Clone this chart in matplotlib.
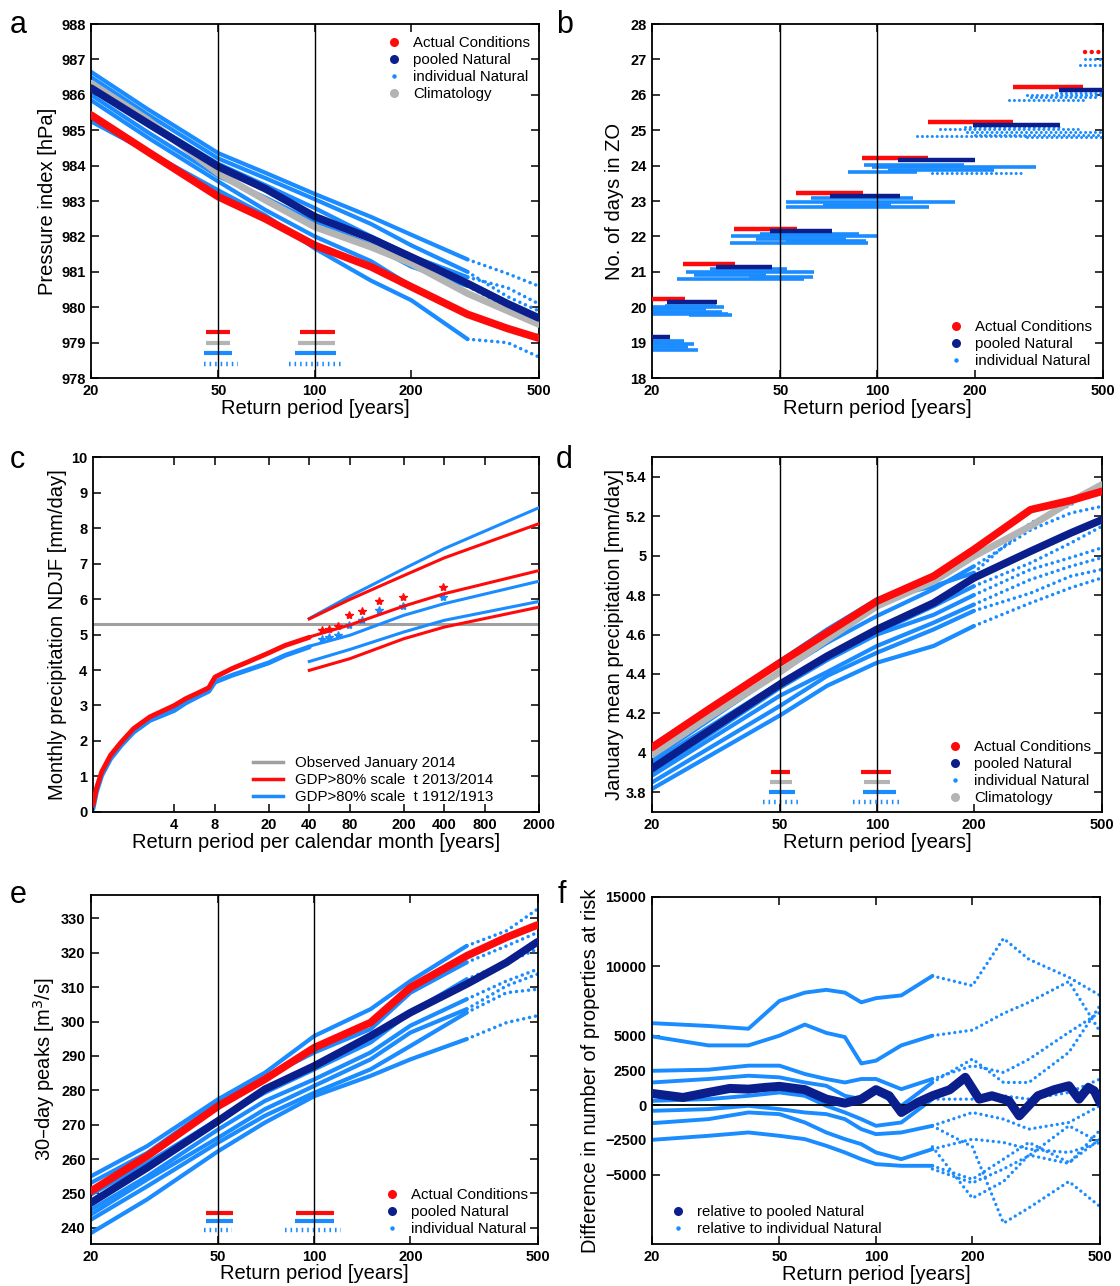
import numpy as np
import matplotlib
matplotlib.use('Agg')
import matplotlib.pyplot as plt
from matplotlib.lines import Line2D
from matplotlib.ticker import NullLocator

plt.rcParams['font.family'] = ['Liberation Sans', 'DejaVu Sans']

RED = '#ff0a0a'
NAVY = '#0a1e8c'
LBLUE = '#1a8cff'
GRAY = '#b4b4b4'

# ---------------- data ----------------
rp = [20, 30, 50, 70, 100, 150, 200, 300, 400, 500]

# panel a: pressure index [hPa]
a_actual = [985.43, 984.4, 983.12, 982.5, 981.75, 981.14, 980.58, 979.8, 979.4, 979.13]
a_pooled = [986.19, 985.2, 983.97, 983.35, 982.56, 981.94, 981.42, 980.67, 980.1, 979.7]
a_clim = [986.33, 985.3, 983.78, 983.03, 982.27, 981.7, 981.24, 980.39, 979.9, 979.52]
a_indiv = [
    [986.65, 985.6, 984.35, 983.8, 983.2, 982.55, 982.05, 981.35, 980.95, 980.6],
    [986.5, 985.45, 984.2, 983.65, 983.05, 982.35, 981.75, 981.0, 980.3, 979.9],
    [986.3, 985.25, 984.05, 983.45, 982.8, 982.0, 981.45, 980.85, 980.55, 980.1],
    [986.0, 984.95, 983.7, 983.1, 982.4, 981.75, 981.15, 980.6, 980.0, 979.7],
    [985.85, 984.8, 983.55, 982.75, 982.0, 981.3, 980.6, 979.8, 979.4, 979.2],
    [985.25, 984.4, 983.3, 982.6, 981.66, 980.75, 980.2, 979.1, 979.0, 978.6],
]
a_ci_y = [979.3, 979.0, 978.7, 978.4]
a_ci50_lo = [45.8, 45.8, 45.0, 45.0]
a_ci50_hi = [54.5, 54.5, 55.3, 57.4]
a_ci100_lo = [89.9, 88.8, 86.6, 82.9]
a_ci100_hi = [115.4, 115.7, 116.8, 123.0]

# panel b: number of days in ZO (step levels)
b_actual_y = [20.22, 21.22, 22.22, 23.22, 24.22, 25.22, 26.22, 27.22]
b_actual_lo = [20, 24.9, 35.9, 56, 89.5, 143, 264, 440]
b_actual_hi = [25.4, 36.3, 56.4, 90.5, 143.7, 264, 434, 500]
b_pooled_y = [19.15, 20.15, 21.15, 22.15, 23.15, 24.15, 25.15, 26.15]
b_pooled_lo = [20, 22.2, 31.5, 46.6, 71.5, 116, 197.5, 366]
b_pooled_hi = [22.7, 31.9, 47.2, 72.2, 117.6, 200, 367, 500]
b_indiv_y = [19.05, 18.95, 18.88, 18.8,
             20.05, 20.0, 19.95, 19.88, 19.82, 19.78,
             21.09, 21.0, 20.92, 20.85, 20.8,
             22.08, 22.0, 21.92, 21.87, 21.82,
             23.08, 22.98, 22.9, 22.82,
             24.02, 23.95, 23.88, 23.83, 23.8,
             25.1, 25.03, 24.95, 24.88, 24.84, 24.8,
             26.05, 26.0, 25.93, 25.85,
             27.02, 26.85]
b_indiv_lo = [20, 20, 20, 20,
              22, 20, 20, 20, 20, 26,
              30.3, 25.5, 27, 40, 24,
              43.2, 35.1, 42, 52, 35,
              62.4, 52, 68, 52,
              91, 96, 108, 81, 148,
              187, 156, 190, 200, 133, 291,
              358, 291, 300, 255,
              440, 425]
b_indiv_hi = [25.2, 27.0, 25.8, 27.8,
              31.5, 33.5, 29.5, 33.0, 34.5, 35.5,
              52.6, 63.6, 45, 63, 59,
              87.8, 99.4, 80, 92, 93.4,
              129, 174, 110, 144,
              186, 310, 230, 133, 283,
              367, 425, 500, 500, 291, 500,
              500, 500, 480, 444,
              500, 494]

# panel c: monthly precipitation NDJF [mm/day]
c_rp = [1.0, 1.06, 1.16, 1.35, 1.62, 2.0, 2.64, 4.0, 4.85, 6.2, 7.2, 8.0, 10.7, 14.5, 20, 26.4, 40]
c_red = [0.19, 0.66, 1.13, 1.6, 1.97, 2.35, 2.68, 3.0, 3.19, 3.38, 3.5, 3.8, 4.04, 4.25, 4.48, 4.69, 4.92]
c_blue = [0.09, 0.56, 1.03, 1.5, 1.88, 2.25, 2.58, 2.86, 3.07, 3.28, 3.4, 3.66, 3.85, 4.02, 4.2, 4.41, 4.65]
c_star_rp = [49.7, 56.2, 65.6, 79.2, 98.8, 132, 199, 394]
c_star_red = [5.14, 5.16, 5.24, 5.54, 5.66, 5.95, 6.07, 6.35]
c_star_blue = [4.88, 4.93, 4.99, 5.28, 5.40, 5.68, 5.79, 6.06]
c_fit_rp = [40, 80, 200, 400, 2000]
c_red_hi = [5.44, 5.99, 6.66, 7.16, 8.12]
c_red_mid = [4.93, 5.27, 5.80, 6.15, 6.80]
c_red_lo = [3.99, 4.32, 4.88, 5.21, 5.77]
c_blue_hi = [5.45, 6.08, 6.85, 7.42, 8.57]
c_blue_mid = [4.67, 4.98, 5.54, 5.87, 6.50]
c_blue_lo = [4.24, 4.58, 5.07, 5.40, 5.93]
c_observed = 5.30

# panel d: January mean precipitation [mm/day]
d_actual = [4.027, 4.22, 4.457, 4.609, 4.769, 4.896, 5.031, 5.233, 5.28, 5.326]
d_pooled = [3.92, 4.11, 4.348, 4.49, 4.626, 4.76, 4.887, 5.022, 5.115, 5.182]
d_clim = [3.99, 4.18, 4.41, 4.575, 4.744, 4.87, 4.997, 5.15, 5.275, 5.36]
d_indiv = [
    [4.036, 4.226, 4.466, 4.626, 4.778, 4.845, 4.913, 5.166, 5.258, 5.368],
    [3.968, 4.164, 4.41, 4.558, 4.694, 4.83, 4.946, 5.13, 5.216, 5.25],
    [3.95, 4.13, 4.356, 4.49, 4.61, 4.744, 4.845, 4.963, 5.064, 5.149],
    [3.9, 4.09, 4.33, 4.47, 4.6, 4.7, 4.8, 4.93, 4.99, 5.04],
    [3.884, 4.064, 4.29, 4.41, 4.542, 4.66, 4.752, 4.879, 4.946, 4.99],
    [3.85, 4.022, 4.238, 4.39, 4.508, 4.626, 4.72, 4.81, 4.896, 4.93],
    [3.817, 3.982, 4.19, 4.34, 4.457, 4.542, 4.643, 4.76, 4.837, 4.887],
]
d_ci_y = [3.901, 3.854, 3.803, 3.752]
d_ci50_lo = [46.7, 46.5, 46.1, 44.2]
d_ci50_hi = [53.5, 54.5, 55.5, 58.0]
d_ci100_lo = [89.2, 90.9, 90.4, 84.2]
d_ci100_hi = [110.8, 110.0, 114.4, 117.7]

# panel e: 30-day peaks [m3/s]
e_actual = [250.7, 260.9, 275.4, 283.2, 292.4, 299.7, 309.9, 319.1, 324.5, 328.1]
e_pooled = [247.3, 257.5, 271.1, 280.3, 287.1, 295.8, 302.6, 310.9, 317.2, 323.2]
e_indiv = [
    [255.0, 263.8, 277.4, 285.1, 295.8, 303.6, 311.8, 322.0, 326.4, 332.7],
    [253.1, 261.8, 276.4, 283.7, 291.0, 297.8, 308.4, 317.2, 322.0, 325.9],
    [249.7, 258.9, 271.6, 279.3, 286.1, 293.9, 302.6, 312.3, 317.2, 321.1],
    [245.3, 255.0, 268.6, 276.9, 283.2, 291.0, 298.8, 306.5, 311.8, 315.2],
    [243.9, 254.1, 266.2, 274.5, 281.3, 289.0, 296.8, 303.6, 310.4, 313.8],
    [242.4, 252.1, 264.8, 272.6, 279.3, 286.1, 292.9, 302.6, 308.4, 309.4],
    [238.5, 248.3, 262.3, 270.6, 278.3, 284.2, 289.0, 294.9, 299.7, 301.7],
]
e_ci_y = [244.2, 241.9, 239.3]
e_ci50_lo = [45.9, 45.7, 45.0]
e_ci50_hi = [55.6, 55.5, 55.1]
e_ci100_lo = [87.9, 86.7, 81.0]
e_ci100_hi = [115.3, 115.3, 121.0]

# panel f: difference in number of properties at risk
f_rp_pool = [20, 25, 30, 35, 40, 45, 50, 60, 70, 80, 90, 100, 110, 120, 135, 150,
             170, 190, 210, 230, 260, 280, 320, 360, 400, 430, 460, 480, 500]
f_pooled = [840, 550, 910, 1200, 1150, 1270, 1350, 1110, 430, 140, 430, 1110, 670, -530, 190, 670,
            1110, 2000, 430, 670, 310, -770, 670, 1110, 1390, 430, 1270, 1030, 190]
f_rp_ind = [20, 30, 40, 50, 60, 70, 80, 90, 100, 120, 150, 200, 250, 300, 400, 500]
f_indiv = [
    [5900, 5700, 5500, 7500, 8100, 8300, 8100, 7400, 7700, 7900, 9300, 8600, 12000, 10500, 9200, 7900],
    [4950, 4300, 4300, 5000, 5800, 5200, 4900, 3000, 3200, 4300, 5000, 5400, 6600, 7400, 8900, 5300],
    [2470, 2550, 2840, 2840, 2240, 1880, 1630, 1880, 1880, 1150, 1880, 2840, 2350, 3300, 5240, 6680],
    [1630, 1880, 2115, 2000, 1630, 1390, 670, 430, 910, -50, 1630, 3320, 1630, 1630, 3800, 7160],
    [310, 430, 670, 910, 670, -50, -530, -1010, -1490, -1250, 430, 430, 670, 430, 910, 1875],
    [-410, -290, -50, -290, -530, -650, -1010, -1730, -2090, -1970, -1490, -530, -1010, -1730, -1250, -50],
    [-1300, -1010, -530, -650, -1250, -1970, -2450, -2810, -3410, -3890, -3170, -2450, -2690, -3170, -3410, -2690],
    [-2500, -2210, -1970, -2210, -2450, -2930, -3410, -3890, -4250, -4370, -4370, -5340, -3890, -2690, -4130, -2450],
]
f_rp_tail = [150, 200, 250, 300, 400, 500]
f_tail = [
    [-4600, -5600, -4600, -3650, -1490, -2690],
    [-3000, -6700, -5500, -3600, -4200, -1800],
    [-1500, -3000, -8500, -7400, -5500, -7300],
]


# ---------------- helpers ----------------
def style_axes(ax, xticks, xlim, ylim, yticks, ylabels, xlabel, ylabel, ylab_x, xlab_y):
    ax.set_xscale('log')
    ax.set_xlim(*xlim)
    ax.set_ylim(*ylim)
    ax.set_xticks(xticks, [f'{t:g}' for t in xticks], fontweight='bold')
    ax.xaxis.set_minor_locator(NullLocator())
    ax.set_yticks(yticks, ylabels, fontweight='bold')
    ax.yaxis.set_minor_locator(NullLocator())
    ax.tick_params(direction='in', top=True, right=True, length=5.5, width=1.1,
                   labelsize=10.5, pad=4)
    for s in ax.spines.values():
        s.set_linewidth(1.3)
    ax.set_xlabel(xlabel, fontsize=14.5)
    ax.set_ylabel(ylabel, fontsize=14.5)
    ax.xaxis.set_label_coords(0.5, xlab_y)
    ax.yaxis.set_label_coords(ylab_x, 0.5)


def plot_indiv(ax, x, series, dense_to, lw=3.0):
    x = np.array(x, dtype=float)
    for vals in series:
        vals = np.array(vals, dtype=float)
        m = x <= dense_to
        ax.plot(x[m], vals[m], color=LBLUE, lw=lw, solid_capstyle='round', zorder=2)
        t = x >= dense_to
        ax.plot(x[t], vals[t], color=LBLUE, lw=lw * 0.85, ls=(0, (0.01, 1.7)),
                dash_capstyle='round', zorder=2)


def plot_ci(ax, ys, lo, hi, colors):
    for y, l, h, c in zip(ys, lo, hi, colors):
        if c == 'dotted':
            ax.plot([l, h], [y, y], color=LBLUE, lw=3.2, ls=(0, (0.35, 0.9)),
                    solid_capstyle='butt', zorder=3)
        else:
            ax.plot([l, h], [y, y], color=c, lw=3.0, solid_capstyle='butt', zorder=3)


def marker_handle(color, size):
    return Line2D([], [], ls='none', marker='o', color=color, markersize=size,
                  markeredgewidth=0)


def legend(ax, handles, labels, loc, anchor, **kw):
    opts = dict(loc=loc, bbox_to_anchor=anchor, frameon=False, fontsize=10.8,
                borderpad=0, borderaxespad=0, handlelength=1.0, handletextpad=0.75,
                labelspacing=0.2)
    opts.update(kw)
    ax.legend(handles, labels, **opts)


H_ACT = marker_handle(RED, 6.5)
H_POOL = marker_handle(NAVY, 6.5)
H_IND = marker_handle(LBLUE, 3.2)
H_CLIM = marker_handle(GRAY, 6.5)

RPX = [20, 50, 100, 200, 500]
XL = 'Return period [years]'

fig = plt.figure(figsize=(11.2, 12.86), dpi=100)

# ---------------- a ----------------
ax = fig.add_axes([0.0813, 0.706, 0.3996, 0.2753])
plot_indiv(ax, rp, a_indiv, 300)
ax.plot(rp, a_clim, color=GRAY, lw=5, solid_capstyle='round', zorder=3)
ax.plot(rp, a_actual, color=RED, lw=5.5, solid_capstyle='round', zorder=4)
ax.plot(rp, a_pooled, color=NAVY, lw=5.5, solid_capstyle='round', zorder=5)
plot_ci(ax, a_ci_y, a_ci50_lo, a_ci50_hi, [RED, GRAY, LBLUE, 'dotted'])
plot_ci(ax, a_ci_y, a_ci100_lo, a_ci100_hi, [RED, GRAY, LBLUE, 'dotted'])
for v in (50, 100):
    ax.axvline(v, color='black', lw=1.0, zorder=6)
style_axes(ax, RPX, (20, 500), (978, 988), list(range(978, 989)),
           [str(v) for v in range(978, 989)], XL, 'Pressure index [hPa]', -0.076, -0.059)
legend(ax, [H_ACT, H_POOL, H_IND, H_CLIM],
       ['Actual Conditions', 'pooled Natural', 'individual Natural', 'Climatology'],
       'upper right', (0.981, 0.966))

# ---------------- b ----------------
ax = fig.add_axes([0.5821, 0.706, 0.4027, 0.2753])
for y, l, h in zip(b_indiv_y, b_indiv_lo, b_indiv_hi):
    if l >= 130:
        ax.plot([l, h], [y, y], color=LBLUE, lw=2.2, ls=(0, (0.01, 1.6)),
                dash_capstyle='round', zorder=2)
    else:
        ax.plot([l, h], [y, y], color=LBLUE, lw=2.6, solid_capstyle='butt', zorder=2)
for y, l, h in zip(b_actual_y, b_actual_lo, b_actual_hi):
    ls = (0, (0.01, 1.5)) if l >= 400 else '-'
    ax.plot([l, h], [y, y], color=RED, lw=3.2, ls=ls, dash_capstyle='round',
            solid_capstyle='butt', zorder=4)
for y, l, h in zip(b_pooled_y, b_pooled_lo, b_pooled_hi):
    ax.plot([l, h], [y, y], color=NAVY, lw=3.2, solid_capstyle='butt', zorder=5)
for v in (50, 100):
    ax.axvline(v, color='black', lw=1.0, zorder=6)
style_axes(ax, RPX, (20, 500), (18, 28), list(range(18, 29)),
           [str(v) for v in range(18, 29)], XL, 'No. of days in ZO', -0.062, -0.059)
legend(ax, [H_ACT, H_POOL, H_IND],
       ['Actual Conditions', 'pooled Natural', 'individual Natural'],
       'lower right', (0.976, 0.028))

# ---------------- c ----------------
ax = fig.add_axes([0.083, 0.3686, 0.398, 0.276])
ax.axhline(c_observed, color='#a0a0a0', lw=2.2, zorder=1)
ax.plot(c_rp, c_blue, color=LBLUE, lw=3.5, solid_capstyle='round', zorder=2)
ax.plot(c_rp, c_red, color=RED, lw=3.5, solid_capstyle='round', zorder=3)
ax.plot(c_star_rp, c_star_blue, ls='none', marker='*', color=LBLUE, markersize=6, zorder=3)
ax.plot(c_star_rp, c_star_red, ls='none', marker='*', color=RED, markersize=6, zorder=3)
for vals in (c_blue_hi, c_blue_mid, c_blue_lo):
    ax.plot(c_fit_rp, vals, color=LBLUE, lw=2.2, zorder=4)
for vals in (c_red_hi, c_red_mid, c_red_lo):
    ax.plot(c_fit_rp, vals, color=RED, lw=2.2, zorder=4)
c_xt = [4, 8, 20, 40, 80, 200, 400, 800, 2000]
style_axes(ax, c_xt, (1, 2000), (0, 10), list(range(0, 11)),
           [str(v) for v in range(0, 11)], 'Return period per calendar month [years]',
           'Monthly precipitation NDJF [mm/day]', -0.058, -0.059)
legend(ax, [Line2D([], [], color='#a0a0a0', lw=2.5), Line2D([], [], color=RED, lw=2.5),
            Line2D([], [], color=LBLUE, lw=2.5)],
       ['Observed January 2014', 'GDP>80% scale  t 2013/2014', 'GDP>80% scale  t 1912/1913'],
       'lower left', (0.359, 0.023), handlelength=2.0, handletextpad=0.8)

# ---------------- d ----------------
ax = fig.add_axes([0.5821, 0.3686, 0.4018, 0.276])
plot_indiv(ax, rp, d_indiv, 200)
ax.plot(rp, d_clim, color=GRAY, lw=5, solid_capstyle='round', zorder=3)
ax.plot(rp, d_actual, color=RED, lw=5.5, solid_capstyle='round', zorder=4)
ax.plot(rp, d_pooled, color=NAVY, lw=5.5, solid_capstyle='round', zorder=5)
plot_ci(ax, d_ci_y, d_ci50_lo, d_ci50_hi, [RED, GRAY, LBLUE, 'dotted'])
plot_ci(ax, d_ci_y, d_ci100_lo, d_ci100_hi, [RED, GRAY, LBLUE, 'dotted'])
for v in (50, 100):
    ax.axvline(v, color='black', lw=1.0, zorder=6)
d_yt = [3.8, 4.0, 4.2, 4.4, 4.6, 4.8, 5.0, 5.2, 5.4]
style_axes(ax, RPX, (20, 500), (3.7, 5.5), d_yt, [f'{v:g}' for v in d_yt], XL,
           'January mean precipitation [mm/day]', -0.062, -0.059)
legend(ax, [H_ACT, H_POOL, H_IND, H_CLIM],
       ['Actual Conditions', 'pooled Natural', 'individual Natural', 'Climatology'],
       'lower right', (0.976, 0.02))

# ---------------- e ----------------
ax = fig.add_axes([0.0813, 0.03266, 0.3987, 0.2714])
plot_indiv(ax, rp, e_indiv, 300)
ax.plot(rp, e_actual, color=RED, lw=5.5, solid_capstyle='round', zorder=4)
ax.plot(rp, e_pooled, color=NAVY, lw=5.5, solid_capstyle='round', zorder=5)
plot_ci(ax, e_ci_y, e_ci50_lo, e_ci50_hi, [RED, LBLUE, 'dotted'])
plot_ci(ax, e_ci_y, e_ci100_lo, e_ci100_hi, [RED, LBLUE, 'dotted'])
for v in (50, 100):
    ax.axvline(v, color='black', lw=1.0, zorder=6)
e_yt = list(range(240, 331, 10))
style_axes(ax, RPX, (20, 500), (235.3, 336.8), e_yt, [str(v) for v in e_yt], XL,
           '30\u2013day peaks [m$^3$/s]', -0.076, -0.057)
legend(ax, [H_ACT, H_POOL, H_IND],
       ['Actual Conditions', 'pooled Natural', 'individual Natural'],
       'lower right', (0.978, 0.023))

# ---------------- f ----------------
ax = fig.add_axes([0.5821, 0.03266, 0.4, 0.27])
plot_indiv(ax, f_rp_ind, f_indiv, 150, lw=2.8)
plot_indiv(ax, f_rp_tail, f_tail, 150, lw=2.8)
ax.axhline(0, color='black', lw=1.3, zorder=4)
ax.plot(f_rp_pool, f_pooled, color=NAVY, lw=6.5, solid_capstyle='round', zorder=5)
f_yt = [-5000, -2500, 0, 2500, 5000, 10000, 15000]
style_axes(ax, RPX, (20, 500), (-10000, 15000), f_yt,
           [f'{v}'.replace('-', '\u2212') for v in f_yt], XL,
           'Difference in number of properties at risk', -0.116, -0.061)
legend(ax, [H_POOL, H_IND],
       ['relative to pooled Natural', 'relative to individual Natural'],
       'lower left', (0.042, 0.023))

# panel letters
for letter, x, y in [('a', 10, 33), ('b', 556, 33), ('c', 10, 468),
                     ('d', 556, 468), ('e', 10, 903), ('f', 558, 903)]:
    fig.text(x / 1120, 1 - y / 1286, letter, fontsize=22, va='baseline', ha='left')

fig.savefig('out.png', dpi=100)
